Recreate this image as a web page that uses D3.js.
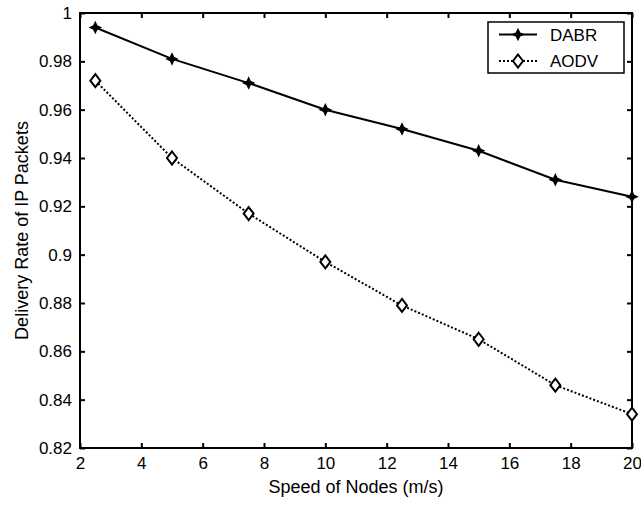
<!DOCTYPE html>
<html>
<head>
<meta charset="utf-8">
<script src="https://cdn.jsdelivr.net/npm/d3@7"></script>
<style>
  body { margin: 0; background: #fff; }
  text { font-family: "Liberation Sans", Arial, sans-serif; fill: #000; }
</style>
</head>
<body>
<div id="chart"></div>
<script>
// data
const speeds = [2.5, 5, 7.5, 10, 12.5, 15, 17.5, 20];
const dabr = [0.994, 0.981, 0.971, 0.960, 0.952, 0.943, 0.931, 0.924];
const aodv = [0.972, 0.940, 0.917, 0.897, 0.879, 0.865, 0.846, 0.834];
const xTicks = [2, 4, 6, 8, 10, 12, 14, 16, 18, 20];
const yTicks = [0.82, 0.84, 0.86, 0.88, 0.9, 0.92, 0.94, 0.96, 0.98, 1];
const seriesNames = ["DABR", "AODV"];

const W = 641, H = 506;
const margin = { top: 13, right: 9, bottom: 58, left: 80 },
  width = W - margin.left - margin.right,
  height = H - margin.top - margin.bottom;

const svg = d3
  .select("#chart")
  .append("svg")
  .attr("width", W)
  .attr("height", H);

const g = svg.append("g").attr("transform", `translate(${margin.left},${margin.top})`);

const x = d3.scaleLinear().domain([2, 20]).range([0, width]);
const y = d3.scaleLinear().domain([0.82, 1]).range([height, 0]);
const fmt = (d) => String(+d.toFixed(2));

// axes, matlab style: ticks inside on all four sides
function styleAxis(sel) {
  sel.select(".domain").remove();
  sel.selectAll(".tick line").attr("stroke", "#000").attr("stroke-width", 2);
  sel.selectAll(".tick text").style("font-size", "17px");
}
g.append("g")
  .attr("transform", `translate(0,${height})`)
  .call(d3.axisBottom(x).tickValues(xTicks).tickFormat(fmt).tickSizeInner(-5).tickPadding(9))
  .call(styleAxis);
g.append("g")
  .call(d3.axisTop(x).tickValues(xTicks).tickFormat("").tickSizeInner(-5))
  .call(styleAxis);
g.append("g")
  .call(d3.axisLeft(y).tickValues(yTicks).tickFormat(fmt).tickSizeInner(-5).tickPadding(8))
  .call(styleAxis);
g.append("g")
  .attr("transform", `translate(${width},0)`)
  .call(d3.axisRight(y).tickValues(yTicks).tickFormat("").tickSizeInner(-5))
  .call(styleAxis);

g.append("rect")
  .attr("width", width)
  .attr("height", height)
  .attr("fill", "none")
  .attr("stroke", "#000")
  .attr("stroke-width", 2);

// markers
const star = "M0,-5L1.6,-1.6L5,0L1.6,1.6L0,5L-1.6,1.6L-5,0L-1.6,-1.6Z";
const diamond = "M0,-6.5L5,0L0,6.5L-5,0Z";

const line = d3
  .line()
  .x((d, i) => x(speeds[i]))
  .y((d) => y(d));

g.append("path")
  .attr("d", line(dabr))
  .attr("fill", "none")
  .attr("stroke", "#000")
  .attr("stroke-width", 2);
g.selectAll(".m-dabr")
  .data(dabr)
  .join("path")
  .attr("transform", (d, i) => `translate(${x(speeds[i])},${y(d)})`)
  .attr("d", star)
  .attr("fill", "#000")
  .attr("stroke", "#000")
  .attr("stroke-width", 1.5);

g.append("path")
  .attr("d", line(aodv))
  .attr("fill", "none")
  .attr("stroke", "#000")
  .attr("stroke-width", 2)
  .attr("stroke-dasharray", "2,2");
g.selectAll(".m-aodv")
  .data(aodv)
  .join("path")
  .attr("transform", (d, i) => `translate(${x(speeds[i])},${y(d)})`)
  .attr("d", diamond)
  .attr("fill", "#fff")
  .attr("stroke", "#000")
  .attr("stroke-width", 2);

// axis labels
svg.append("text")
  .attr("x", margin.left + width / 2)
  .attr("y", 493)
  .attr("text-anchor", "middle")
  .style("font-size", "18px")
  .text("Speed of Nodes (m/s)");
svg.append("text")
  .attr("transform", `translate(28,${margin.top + height / 2}) rotate(-90)`)
  .attr("text-anchor", "middle")
  .style("font-size", "18px")
  .text("Delivery Rate of IP Packets");

// legend
const lg = svg.append("g").attr("transform", "translate(488,22)");
lg.append("rect")
  .attr("width", 136)
  .attr("height", 51)
  .attr("fill", "#fff")
  .attr("stroke", "#000")
  .attr("stroke-width", 1.5);
seriesNames.forEach(function (name, i) {
  const ly = 12.5 + i * 26.5;
  lg.append("line")
    .attr("x1", 11).attr("x2", 49)
    .attr("y1", ly).attr("y2", ly)
    .attr("stroke", "#000")
    .attr("stroke-width", 2)
    .attr("stroke-dasharray", i === 0 ? null : "2,2");
  lg.append("path")
    .attr("transform", `translate(30,${ly})`)
    .attr("d", i === 0 ? star : diamond)
    .attr("fill", i === 0 ? "#000" : "#fff")
    .attr("stroke", "#000")
    .attr("stroke-width", i === 0 ? 1.5 : 2);
  lg.append("text")
    .attr("x", 62)
    .attr("y", ly + 6)
    .style("font-size", "17px")
    .text(name);
});
</script>
</body>
</html>
